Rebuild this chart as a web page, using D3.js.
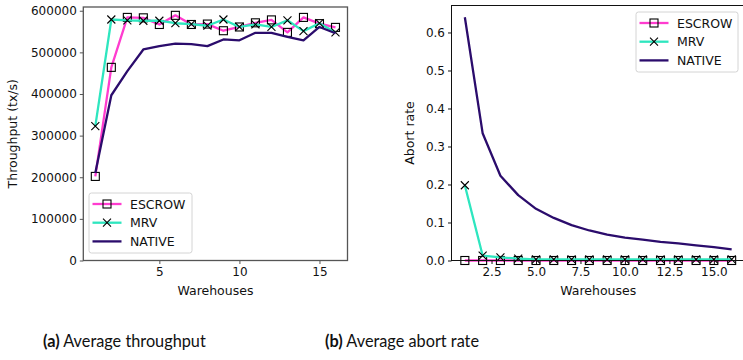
<!DOCTYPE html>
<html>
<head>
<meta charset="utf-8">
<script src="https://cdn.jsdelivr.net/npm/d3@7"></script>
<style>
  body { margin: 0; background: #fff; }
  text { font-family: "DejaVu Sans", sans-serif; fill: #111; }
  .caption text { font-family: "Lato", sans-serif; }
</style>
</head>
<body>
<div id="chart"></div>
<script>
var svgWidth = 743;
var svgHeight = 360;

// data
var warehouses = [1, 2, 3, 4, 5, 6, 7, 8, 9, 10, 11, 12, 13, 14, 15, 16];
var escrowTput = [202000, 464000, 584000, 583000, 567000, 589000, 567000, 568000, 552000, 561000, 571000, 578000, 548000, 584000, 569000, 560000];
var mrvTput = [323000, 579000, 577000, 576000, 576000, 570000, 568000, 564000, 579000, 561000, 567000, 561000, 577000, 551000, 570000, 548000];
var nativeTput = [210000, 397000, 455000, 507000, 515000, 521000, 520000, 515000, 531000, 529000, 547000, 547000, 537000, 529000, 561000, 546000];

var escrowAbort = [0, 0, 0, 0, 0, 0, 0, 0, 0, 0, 0, 0, 0, 0, 0, 0];
var mrvAbort = [0.198, 0.013, 0.008, 0.005, 0.003, 0.003, 0.003, 0.003, 0.003, 0.003, 0.003, 0.003, 0.003, 0.003, 0.003, 0.003];
var nativeAbort = [0.64, 0.335, 0.223, 0.172, 0.136, 0.112, 0.093, 0.079, 0.068, 0.06, 0.055, 0.049, 0.045, 0.04, 0.035, 0.029];

var seriesNames = ["ESCROW", "MRV", "NATIVE"];
var seriesColors = ["#ff3ccf", "#2ee6bf", "#2b0c6c"];
var seriesMarkers = ["square", "x", "none"];

var tputTicks = [0, 100000, 200000, 300000, 400000, 500000, 600000];
var tputXTicks = [5, 10, 15];
var abortTicks = [0, 0.1, 0.2, 0.3, 0.4, 0.5, 0.6];
var abortXTicks = [2.5, 5, 7.5, 10, 12.5, 15];

var svg = d3.select("#chart")
  .append("svg")
  .attr("width", svgWidth)
  .attr("height", svgHeight);

function drawMarker(g, type, x, y) {
  if (type === "square") {
    g.append("rect")
      .attr("x", x - 4).attr("y", y - 4)
      .attr("width", 8).attr("height", 8)
      .attr("fill", "none")
      .attr("stroke", "#000")
      .attr("stroke-width", 1.1);
  } else if (type === "x") {
    g.append("path")
      .attr("d", `M${x - 4},${y - 4}L${x + 4},${y + 4}M${x - 4},${y + 4}L${x + 4},${y - 4}`)
      .attr("stroke", "#000")
      .attr("stroke-width", 1.1);
  }
}

function drawPanel(opt) {
  var x = d3.scaleLinear().domain([0.25, 16.75]).range([opt.left, opt.right]);
  var y = d3.scaleLinear().domain(opt.yDomain).range([opt.bottom, opt.top]);

  var clipId = "clip" + opt.id;
  svg.append("clipPath").attr("id", clipId)
    .append("rect")
    .attr("x", opt.left).attr("y", opt.top - 6)
    .attr("width", opt.right - opt.left).attr("height", opt.bottom - opt.top + 12);

  var plot = svg.append("g").attr("clip-path", `url(#${clipId})`);

  opt.series.forEach(function(vals, i) {
    var pts = warehouses.map((w, j) => [w, vals[j]]);
    var line = d3.line().x(d => x(d[0])).y(d => y(d[1]));
    plot.append("path")
      .datum(pts)
      .attr("d", line)
      .attr("fill", "none")
      .attr("stroke", seriesColors[i])
      .attr("stroke-width", 2.3)
      .attr("stroke-linejoin", "round");
    pts.forEach(function(p) {
      drawMarker(plot, seriesMarkers[i], x(p[0]), y(p[1]));
    });
  });

  // axes
  var xAxis = svg.append("g")
    .attr("transform", `translate(0, ${opt.bottom})`)
    .call(d3.axisBottom(x).tickValues(opt.xTicks).tickSize(3.5).tickPadding(3).tickFormat(opt.xFormat));
  var yAxis = svg.append("g")
    .attr("transform", `translate(${opt.left}, 0)`)
    .call(d3.axisLeft(y).tickValues(opt.yTicks).tickSize(3.5).tickPadding(3).tickFormat(opt.yFormat));
  [xAxis, yAxis].forEach(function(a) {
    a.select(".domain").remove();
    a.selectAll("line").attr("stroke", opt.spine).attr("stroke-width", 1);
    a.selectAll("text").attr("font-size", 12).attr("fill", "#111")
      .style("font-family", "DejaVu Sans, sans-serif");
  });

  svg.append("rect")
    .attr("x", opt.left).attr("y", opt.top)
    .attr("width", opt.right - opt.left).attr("height", opt.bottom - opt.top)
    .attr("fill", "none")
    .attr("stroke", opt.spine)
    .attr("stroke-width", opt.spineWidth);

  svg.append("text")
    .attr("x", (opt.left + opt.right) / 2)
    .attr("y", opt.bottom + 34)
    .attr("text-anchor", "middle")
    .attr("font-size", 12.5)
    .text("Warehouses");

  svg.append("text")
    .attr("transform", `translate(${opt.yLabelX}, ${(opt.top + opt.bottom) / 2}) rotate(-90)`)
    .attr("text-anchor", "middle")
    .attr("font-size", 12.5)
    .text(opt.yLabel);

  // legend
  var lg = svg.append("g").attr("transform", `translate(${opt.legend[0]}, ${opt.legend[1]})`);
  lg.append("rect")
    .attr("x", 0).attr("y", 0)
    .attr("width", opt.legend[2]).attr("height", 60)
    .attr("rx", 2.5)
    .attr("fill", "#fff").attr("fill-opacity", 0.85)
    .attr("stroke", "#d4d4d4");
  seriesNames.forEach(function(name, i) {
    var yy = 11 + i * 18.7;
    lg.append("line")
      .attr("x1", 3.5).attr("x2", 32.5)
      .attr("y1", yy).attr("y2", yy)
      .attr("stroke", seriesColors[i])
      .attr("stroke-width", 2.3);
    drawMarker(lg, seriesMarkers[i], 18, yy);
    lg.append("text")
      .attr("x", 41).attr("y", yy + 4.5)
      .attr("font-size", 12.5)
      .text(name);
  });
}

drawPanel({
  id: "a",
  left: 83.3, right: 347.5, top: 7, bottom: 260.5,
  yDomain: [0, 609000],
  series: [escrowTput, mrvTput, nativeTput],
  xTicks: tputXTicks, yTicks: tputTicks,
  xFormat: d3.format("d"), yFormat: d3.format("d"),
  spine: "#555", spineWidth: 1.3,
  yLabel: "Throughput (tx/s)", yLabelX: 17,
  legend: [89, 193, 103]
});

drawPanel({
  id: "b",
  left: 451.5, right: 745, top: 5.5, bottom: 260.5,
  yDomain: [0, 0.671],
  series: [escrowAbort, mrvAbort, nativeAbort],
  xTicks: abortXTicks, yTicks: abortTicks,
  xFormat: d3.format(".1f"), yFormat: d3.format(".1f"),
  spine: "#111", spineWidth: 1,
  yLabel: "Abort rate", yLabelX: 414,
  legend: [636, 12, 102]
});

// captions
var cap = svg.append("g").attr("class", "caption");
var capA = cap.append("text").attr("x", 43).attr("y", 347).attr("font-size", 16.3);
capA.append("tspan").attr("font-weight", "bold").text("(a)");
capA.append("tspan").text(" Average throughput");
var capB = cap.append("text").attr("x", 325).attr("y", 347).attr("font-size", 16.3);
capB.append("tspan").attr("font-weight", "bold").text("(b)");
capB.append("tspan").text(" Average abort rate");
</script>
</body>
</html>
